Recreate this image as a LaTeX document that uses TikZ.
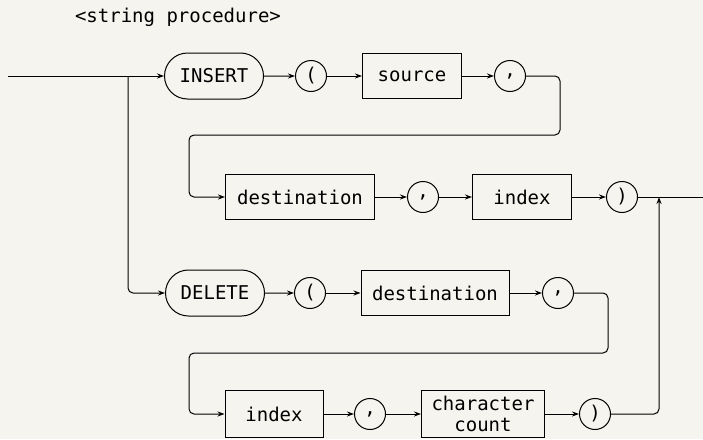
\documentclass[tikz,border=0pt]{standalone}
\usepackage{fontspec}
\setmonofont{DejaVu Sans Mono}
\usetikzlibrary{arrows.meta, shapes.misc, positioning}
\definecolor{paper}{RGB}{246,244,238}

\begin{document}
\begin{tikzpicture}[->,>={Stealth[length=7pt,width=5pt]},x=1pt,y=-1pt,line width=1pt,
                    every node/.style={font=\ttfamily\fontsize{19}{22}\selectfont}]
  \tikzstyle{word}=[draw,rounded rectangle,minimum height=46pt,minimum width=99pt,inner sep=0pt]
  \tikzstyle{box}=[draw,rectangle,minimum height=45pt,inner sep=0pt]
  \tikzstyle{sym}=[draw,circle,minimum size=31pt,inner sep=0pt]

  \fill[paper] (0,0) rectangle (703,439);
  \useasboundingbox (0,0) rectangle (703,439);

  \node (title) at (178,17) {<string procedure>};

  % INSERT branch
  \node[word]                      (ins)  at (214,76)  {INSERT};
  \node[sym]                       (lp1)  at (311,76)  {(};
  \node[box,minimum width=99pt]    (src)  at (412,76)  {source};
  \node[sym]                       (cm1)  at (510,76)  {,};
  \node[box,minimum width=149pt]   (dst1) at (300,197) {destination};
  \node[sym]                       (cm2)  at (423,197) {,};
  \node[box,minimum width=99pt]    (idx1) at (522,197) {index};
  \node[sym]                       (rp1)  at (622,197) {)};

  % DELETE branch
  \node[word]                      (del)  at (215,293) {DELETE};
  \node[sym]                       (lp2)  at (310,293) {(};
  \node[box,minimum width=148pt]   (dst2) at (435,293) {destination};
  \node[sym]                       (cm3)  at (558,293) {,};
  \node[box,minimum width=98pt,minimum height=47pt]  (idx2) at (274,414) {index};
  \node[sym]                       (cm4)  at (370,414) {,};
  \node[box,minimum width=123pt,minimum height=47pt,align=center]
                                   (cnt)  at (483,414) {character\\[-1pt]count};
  \node[sym]                       (rp2)  at (595,414) {)};

  \coordinate (start) at (8,76);
  \coordinate (split) at (128,76);
  \coordinate (r1)    at (560,135);
  \coordinate (l1)    at (189,135);
  \coordinate (r3)    at (608,353);
  \coordinate (l3)    at (189,353);
  \coordinate (join)  at (659,197);
  \coordinate (exit)  at (703,197);

  \draw (start) -- (ins);
  \draw[rounded corners=5pt] (split) |- (del);

  \draw (ins) -- (lp1);
  \draw (lp1) -- (src);
  \draw (src) -- (cm1);
  \draw[rounded corners=5pt] (cm1) -| (r1) -- (l1) |- (dst1);
  \draw (dst1) -- (cm2);
  \draw (cm2) -- (idx1);
  \draw (idx1) -- (rp1);
  \draw[-] (rp1) -- (exit);

  \draw (del) -- (lp2);
  \draw (lp2) -- (dst2);
  \draw (dst2) -- (cm3);
  \draw[rounded corners=5pt] (cm3) -| (r3) -- (l3) |- (idx2);
  \draw (idx2) -- (cm4);
  \draw (cm4) -- (cnt);
  \draw (cnt) -- (rp2);
  \draw[rounded corners=5pt] (rp2) -| (join);
\end{tikzpicture}
\end{document}
